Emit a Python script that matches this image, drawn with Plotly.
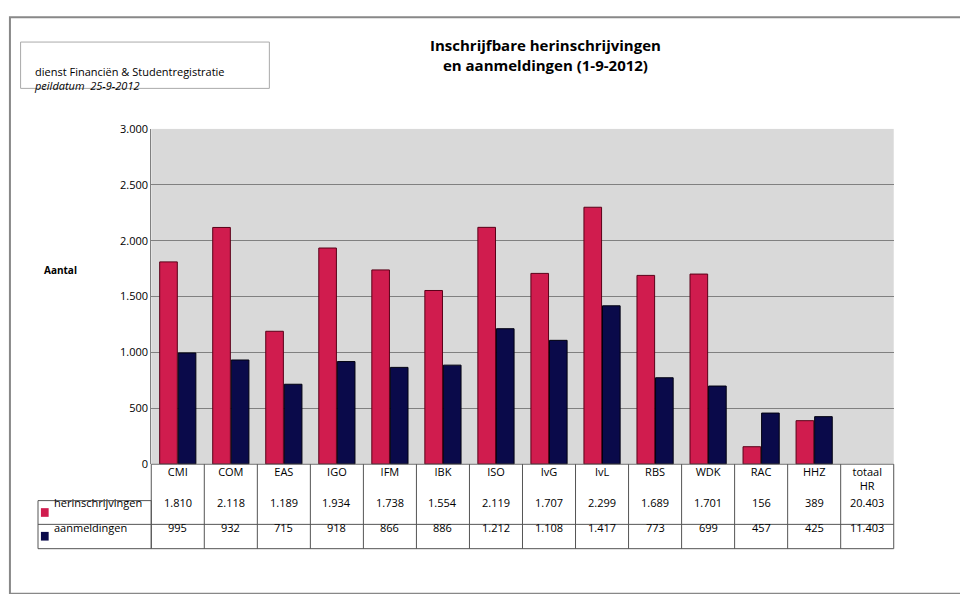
import plotly.graph_objects as go

categories = ["CMI", "COM", "EAS", "IGO", "IFM", "IBK", "ISO", "IvG", "IvL", "RBS", "WDK", "RAC", "HHZ", "totaal<br>HR"]
herinschrijvingen = [1810, 2118, 1189, 1934, 1738, 1554, 2119, 1707, 2299, 1689, 1701, 156, 389, None]
aanmeldingen = [995, 932, 715, 918, 866, 886, 1212, 1108, 1417, 773, 699, 457, 425, None]
totaal = [20403, 11403]
y_ticks = [0, 500, 1000, 1500, 2000, 2500, 3000]


def fmt(v):
    return f"{v:,}".replace(",", ".")


def make_chart(out_path):
    fig = go.Figure()
    fig.add_trace(go.Bar(x=categories, y=herinschrijvingen, name="herinschrijvingen",
                         marker=dict(color="#D01C4E", line=dict(color="#5a0018", width=1))))
    fig.add_trace(go.Bar(x=categories, y=aanmeldingen, name="aanmeldingen",
                         marker=dict(color="#0A0A4A", line=dict(color="#000010", width=1))))

    ann = []
    rows = [("herinschrijvingen", herinschrijvingen, totaal[0], 0.1425, "#D01C4E"),
            ("aanmeldingen", aanmeldingen, totaal[1], 0.101, "#0A0A4A")]
    for label, vals, tot, yy, col in rows:
        ann.append(dict(x=0.045, y=yy, xref="paper", yref="paper", text=label, showarrow=False,
                        xanchor="left", font=dict(size=11)))
        for cat, v in zip(categories, vals):
            ann.append(dict(x=cat, y=yy, xref="x", yref="paper", showarrow=False,
                            text=fmt(tot) if v is None else fmt(v), font=dict(size=11)))
    ann += [
        dict(x=0.555, y=0.97, xref="paper", yref="paper", showarrow=False, yanchor="top",
             text="<b>Inschrijfbare herinschrijvingen<br>en aanmeldingen (1-9-2012)</b>",
             font=dict(size=15)),
        dict(x=0.025, y=0.92, xref="paper", yref="paper", showarrow=False, xanchor="left",
             text="dienst Financiën & Studentregistratie<br><i>peildatum  25-9-2012</i>",
             align="left", font=dict(size=11)),
        dict(x=0.035, y=0.562, xref="paper", yref="paper", showarrow=False, xanchor="left",
             text="<b>Aantal</b>", font=dict(size=10)),
    ]

    line = dict(color="#555", width=1)
    shapes = [
        dict(type="rect", xref="paper", yref="paper", x0=0.002, y0=0.002, x1=0.998, y1=0.998,
             line=dict(color="#888", width=2)),
        dict(type="rect", xref="paper", yref="paper", x0=0.013, y0=0.875, x1=0.27, y1=0.955,
             line=dict(color="#aaa", width=1)),
        # table
        dict(type="rect", xref="paper", yref="paper", x0=0.148, y0=0.08, x1=0.915, y1=0.226, line=line),
        dict(type="rect", xref="paper", yref="paper", x0=0.031, y0=0.08, x1=0.148, y1=0.163, line=line),
        dict(type="line", xref="paper", yref="paper", x0=0.031, y0=0.122, x1=0.915, y1=0.122, line=line),
        dict(type="rect", xref="paper", yref="paper", x0=0.034, y0=0.135, x1=0.042, y1=0.15,
             fillcolor="#D01C4E", line=dict(width=0)),
        dict(type="rect", xref="paper", yref="paper", x0=0.034, y0=0.094, x1=0.042, y1=0.109,
             fillcolor="#0A0A4A", line=dict(width=0)),
    ]
    for i in range(1, len(categories)):
        shapes.append(dict(type="line", xref="x", yref="paper", x0=i - 0.5, x1=i - 0.5,
                           y0=0.08, y1=0.226, line=line))

    fig.update_layout(
        width=968, height=594, margin=dict(l=0, r=0, t=0, b=0),
        paper_bgcolor="white", plot_bgcolor="#D9D9D9",
        showlegend=False, barmode="group", bargap=0.3, bargroupgap=0.05,
        font=dict(family="Open Sans, DejaVu Sans", size=11, color="black"),
        xaxis=dict(domain=[0.148, 0.915], showgrid=False, tickfont=dict(size=11),
                   range=[-0.5, len(categories) - 0.5], ticks=""),
        yaxis=dict(domain=[0.226, 0.805], range=[0, 3000], tickvals=y_ticks,
                   ticktext=[fmt(v) for v in y_ticks], gridcolor="#808080",
                   showline=True, linecolor="#808080", tickfont=dict(size=11)),
        annotations=ann, shapes=shapes,
    )
    fig.write_html(out_path)
    return out_path


make_chart("out.html")
